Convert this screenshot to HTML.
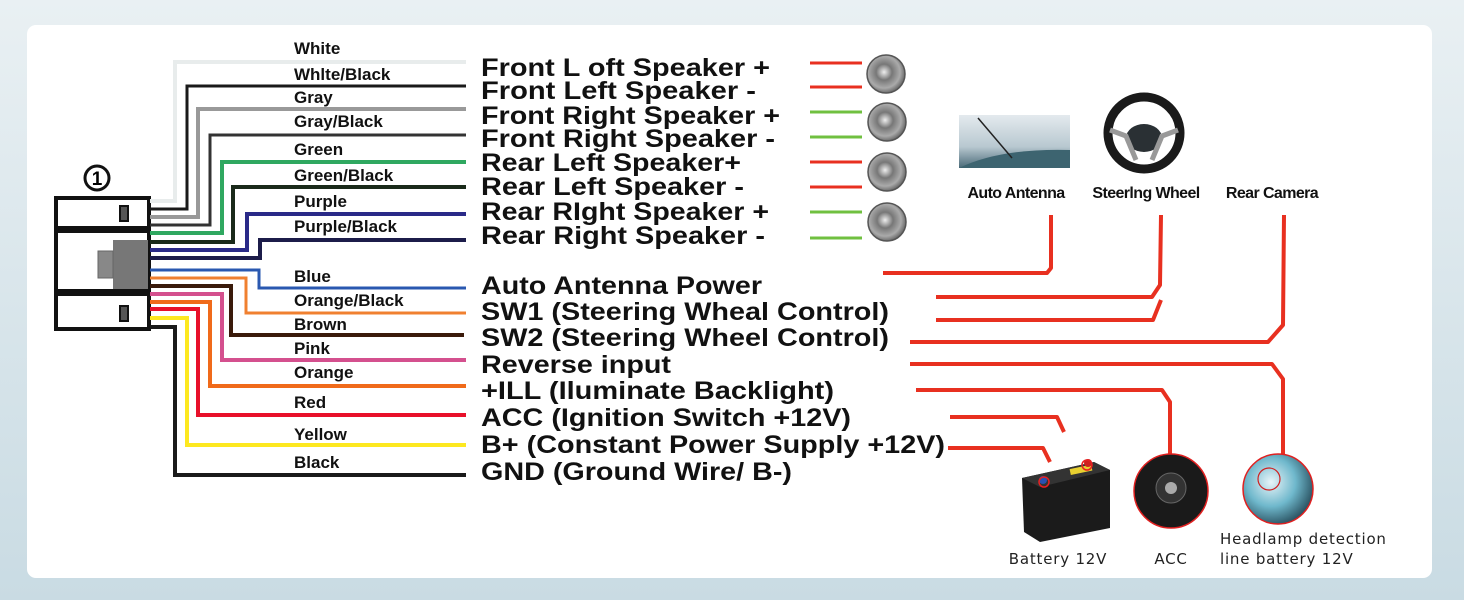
<!DOCTYPE html>
<html><head><meta charset="utf-8"><style>
html,body{margin:0;padding:0;width:1464px;height:600px;overflow:hidden;background:#d9e6ec}
svg{display:block}
.wl{font:bold 17px "Liberation Sans",sans-serif;fill:#111}
.rl{font:bold 25px "Liberation Sans",sans-serif;fill:#111}
.il{font:bold 16px "Liberation Sans",sans-serif;fill:#111;letter-spacing:-0.6px}
.bl{font:15px "DejaVu Sans","Liberation Sans",sans-serif;fill:#222;letter-spacing:0.8px}
</style></head><body>
<svg width="1464" height="600" viewBox="0 0 1464 600" xmlns="http://www.w3.org/2000/svg">
<defs>
<linearGradient id="bg" x1="0" y1="0" x2="0" y2="1"><stop offset="0" stop-color="#e9f0f3"/><stop offset="1" stop-color="#c9dbe3"/></linearGradient>
<radialGradient id="spk" cx="0.45" cy="0.45" r="0.6"><stop offset="0" stop-color="#eee"/><stop offset="0.35" stop-color="#777"/><stop offset="0.7" stop-color="#aaa"/><stop offset="1" stop-color="#555"/></radialGradient>
<linearGradient id="ant" x1="0" y1="0" x2="0" y2="1"><stop offset="0" stop-color="#e4eaee"/><stop offset="0.6" stop-color="#b8c8d0"/><stop offset="1" stop-color="#4a6a78"/></linearGradient>
<radialGradient id="hl" cx="0.4" cy="0.4" r="0.7"><stop offset="0" stop-color="#e8f4f8"/><stop offset="0.5" stop-color="#6fb8cc"/><stop offset="1" stop-color="#1a3a48"/></radialGradient>
</defs>
<rect width="1464" height="600" fill="url(#bg)"/>
<rect x="27" y="25" width="1405" height="553" rx="9" fill="#fff"/>

<circle cx="97" cy="178" r="12" fill="none" stroke="#111" stroke-width="3"/>
<text x="97" y="185" text-anchor="middle" style="font:bold 19px 'Liberation Sans',sans-serif">1</text>
<rect x="56" y="198" width="93" height="131" fill="#fff" stroke="#111" stroke-width="4"/>
<rect x="56" y="226" width="93" height="7" fill="#111"/>
<rect x="56" y="289" width="93" height="7" fill="#111"/>
<rect x="113" y="240" width="35" height="49" fill="#777"/>
<rect x="98" y="251" width="15" height="27" fill="#888" stroke="#666"/>
<rect x="120" y="206" width="8" height="15" fill="#555" stroke="#111" stroke-width="2"/>
<rect x="120" y="306" width="8" height="15" fill="#555" stroke="#111" stroke-width="2"/>

<g fill="none" stroke-width="4" stroke-linejoin="miter">
<polyline points="150,201 175,201 175,62 466,62" stroke="#e8ecec"/>
<polyline points="150,209 187,209 187,86 466,86" stroke="#1a1a1a" stroke-width="3"/>
<polyline points="150,217 198,217 198,109 466,109" stroke="#999"/>
<polyline points="150,225 210,225 210,135 466,135" stroke="#333" stroke-width="3"/>
<polyline points="150,233 222,233 222,162 466,162" stroke="#2fa860"/>
<polyline points="150,242 233,242 233,187 466,187" stroke="#1a2a1a"/>
<polyline points="150,250 247,250 247,214 466,214" stroke="#2a2a88"/>
<polyline points="150,258 260,258 260,240 466,240" stroke="#1c1c4a"/>
<polyline points="150,270 259,270 259,288 466,288" stroke="#2a58b0" stroke-width="3"/>
<polyline points="150,278 246,278 246,313 466,313" stroke="#f08030" stroke-width="3"/>
<polyline points="150,286 231,286 231,335 464,335" stroke="#3a1a0a"/>
<polyline points="150,294 222,294 222,360 466,360" stroke="#d4508e"/>
<polyline points="150,302 210,302 210,386 466,386" stroke="#f06a1a"/>
<polyline points="150,309 198,309 198,415 466,415" stroke="#e8102a"/>
<polyline points="150,318 187,318 187,445 466,445" stroke="#fde820"/>
<polyline points="150,327 175,327 175,475 466,475" stroke="#1a1a1a"/>
</g>

<text class="wl" x="294" y="54">White</text>
<text class="wl" x="294" y="80">Whlte/Black</text>
<text class="wl" x="294" y="103">Gray</text>
<text class="wl" x="294" y="127">Gray/Black</text>
<text class="wl" x="294" y="155">Green</text>
<text class="wl" x="294" y="181">Green/Black</text>
<text class="wl" x="294" y="207">Purple</text>
<text class="wl" x="294" y="232">Purple/Black</text>
<text class="wl" x="294" y="282">Blue</text>
<text class="wl" x="294" y="306">Orange/Black</text>
<text class="wl" x="294" y="330">Brown</text>
<text class="wl" x="294" y="354">Pink</text>
<text class="wl" x="294" y="378">Orange</text>
<text class="wl" x="294" y="408">Red</text>
<text class="wl" x="294" y="440">Yellow</text>
<text class="wl" x="294" y="468">Black</text>

<text class="rl" x="481" y="76" textLength="289" lengthAdjust="spacingAndGlyphs">Front L oft Speaker +</text>
<text class="rl" x="481" y="99" textLength="275" lengthAdjust="spacingAndGlyphs">Front Left Speaker -</text>
<text class="rl" x="481" y="124" textLength="299" lengthAdjust="spacingAndGlyphs">Front Right Speaker +</text>
<text class="rl" x="481" y="147" textLength="294" lengthAdjust="spacingAndGlyphs">Front Right Speaker -</text>
<text class="rl" x="481" y="171" textLength="260" lengthAdjust="spacingAndGlyphs">Rear Left Speaker+</text>
<text class="rl" x="481" y="195" textLength="263" lengthAdjust="spacingAndGlyphs">Rear Left Speaker -</text>
<text class="rl" x="481" y="220" textLength="288" lengthAdjust="spacingAndGlyphs">Rear RIght Speaker +</text>
<text class="rl" x="481" y="244" textLength="284" lengthAdjust="spacingAndGlyphs">Rear Right Speaker -</text>
<text class="rl" x="481" y="294" textLength="281" lengthAdjust="spacingAndGlyphs">Auto Antenna Power</text>
<text class="rl" x="481" y="320" textLength="408" lengthAdjust="spacingAndGlyphs">SW1 (Steering Wheal Control)</text>
<text class="rl" x="481" y="346" textLength="408" lengthAdjust="spacingAndGlyphs">SW2 (Steering Wheel Control)</text>
<text class="rl" x="481" y="373" textLength="190" lengthAdjust="spacingAndGlyphs">Reverse input</text>
<text class="rl" x="481" y="399" textLength="353" lengthAdjust="spacingAndGlyphs">+ILL (Iluminate Backlight)</text>
<text class="rl" x="481" y="426" textLength="370" lengthAdjust="spacingAndGlyphs">ACC (Ignition Switch +12V)</text>
<text class="rl" x="481" y="453" textLength="464" lengthAdjust="spacingAndGlyphs">B+ (Constant Power Supply +12V)</text>
<text class="rl" x="481" y="480" textLength="311" lengthAdjust="spacingAndGlyphs">GND (Ground Wire/ B-)</text>

<g stroke-width="3">
<line x1="810" y1="63" x2="862" y2="63" stroke="#e83020"/>
<line x1="810" y1="87" x2="862" y2="87" stroke="#e83020"/>
<line x1="810" y1="112" x2="862" y2="112" stroke="#70c040"/>
<line x1="810" y1="137" x2="862" y2="137" stroke="#70c040"/>
<line x1="810" y1="162" x2="862" y2="162" stroke="#e83020"/>
<line x1="810" y1="187" x2="862" y2="187" stroke="#e83020"/>
<line x1="810" y1="212" x2="862" y2="212" stroke="#70c040"/>
<line x1="810" y1="238" x2="862" y2="238" stroke="#70c040"/>
</g>
<g stroke="#555" stroke-width="1.5">
<circle cx="886" cy="74" r="19" fill="url(#spk)"/>
<circle cx="887" cy="122" r="19" fill="url(#spk)"/>
<circle cx="887" cy="172" r="19" fill="url(#spk)"/>
<circle cx="887" cy="222" r="19" fill="url(#spk)"/>
</g>

<rect x="959" y="115" width="111" height="53" fill="url(#ant)"/>
<path d="M959 168 Q1000 148 1070 150 L1070 168Z" fill="#3d6470"/>
<line x1="978" y1="118" x2="1012" y2="158" stroke="#222" stroke-width="1.5"/>
<circle cx="1144" cy="133" r="36" fill="none" stroke="#1a1a1a" stroke-width="9"/>
<ellipse cx="1144" cy="138" rx="18" ry="14" fill="#2a3034"/>
<path d="M1110 130 L1126 136 L1136 160 M1178 130 L1162 136 L1152 160" stroke="#999" stroke-width="5" fill="none"/>
<text class="il" x="1016" y="198" text-anchor="middle">Auto Antenna</text>
<text class="il" x="1146" y="198" text-anchor="middle">Steerlng Wheel</text>
<text class="il" x="1272" y="198" text-anchor="middle">Rear Camera</text>

<g fill="none" stroke="#e83020" stroke-width="4" stroke-linejoin="round">
<polyline points="883,273 1047,273 1051,268 1051,215"/>
<polyline points="936,297 1152,297 1160,285 1161,215"/>
<polyline points="936,320 1153,320 1161,300"/>
<polyline points="910,342 1268,342 1283,325 1284,215"/>
<polyline points="910,364 1272,364 1283,379 1283,456"/>
<polyline points="916,390 1162,390 1170,402 1170,456"/>
<polyline points="950,417 1057,417 1064,432"/>
<polyline points="948,448 1043,448 1050,462"/>
</g>

<path d="M1022 478 L1094 462 L1110 470 L1110 528 L1040 542 L1024 532 Z" fill="#1b1b1b"/>
<path d="M1022 478 L1094 462 L1110 470 L1040 487 Z" fill="#333"/>
<rect x="1070" y="467" width="22" height="6" fill="#e8d030" transform="rotate(-12 1080 470)"/>
<circle cx="1043" cy="480" r="4" fill="#2a50b0"/>
<circle cx="1088" cy="463" r="4" fill="#d02020"/>
<circle cx="1044" cy="482" r="5" fill="none" stroke="#e82020" stroke-width="1.5"/>
<circle cx="1087" cy="465" r="5" fill="none" stroke="#e82020" stroke-width="1.5"/>
<circle cx="1171" cy="491" r="37" fill="#1a1a1a" stroke="#e02020" stroke-width="1.5"/>
<circle cx="1171" cy="488" r="15" fill="#333" stroke="#666"/>
<circle cx="1171" cy="488" r="6" fill="#aaa"/>
<circle cx="1278" cy="489" r="35" fill="url(#hl)" stroke="#e02020" stroke-width="1.5"/>
<circle cx="1269" cy="479" r="11" fill="none" stroke="#d02020" stroke-width="1.2"/>

<text class="bl" x="1058" y="564" text-anchor="middle">Battery 12V</text>
<text class="bl" x="1171" y="564" text-anchor="middle">ACC</text>
<text class="bl" x="1220" y="544">Headlamp detection</text>
<text class="bl" x="1220" y="564">line battery 12V</text>
</svg>
</body></html>
